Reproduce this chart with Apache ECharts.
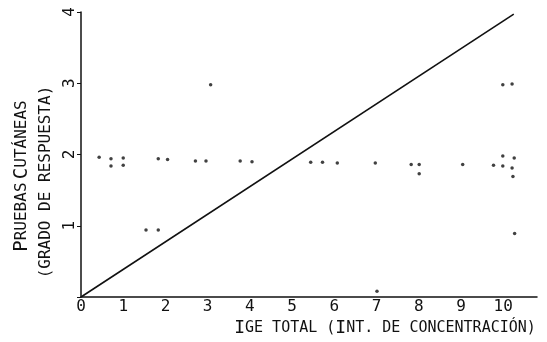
<!DOCTYPE html>
<html>
<head>
<meta charset="utf-8">
<script src="https://cdn.jsdelivr.net/npm/echarts@6/dist/echarts.min.js"></script>
<style>
  html, body { margin: 0; padding: 0; background: #fff; }
  #chart { width: 547px; height: 342px; }
</style>
</head>
<body>
<div id="chart"></div>
<script>
// points (x = IgE concentration, y = skin-test grade)
const pointsX = [0.43, 0.71, 0.71, 1.00, 1.00, 1.83, 2.05, 2.71, 2.96, 3.77, 4.05,
  5.44, 5.72, 6.07, 6.97, 7.82, 8.01, 8.01, 9.04, 9.77, 9.99, 9.99, 10.21, 10.23, 10.26,
  3.07, 9.99, 10.21, 10.27, 1.54, 1.83, 7.01];
const pointsY = [1.96, 1.94, 1.84, 1.95, 1.85, 1.94, 1.93, 1.91, 1.91, 1.91, 1.90,
  1.89, 1.89, 1.88, 1.88, 1.86, 1.86, 1.73, 1.86, 1.85, 1.98, 1.84, 1.81, 1.69, 1.95,
  2.98, 2.98, 2.99, 0.89, 0.94, 0.94, 0.08];
const lineX = [0, 10.25];
const lineY = [0, 3.97];
const xTicks = [0, 1, 2, 3, 4, 5, 6, 7, 8, 9, 10];

const font = "'DejaVu Sans Mono', 'Liberation Mono', monospace";
const chart = echarts.init(document.getElementById("chart"));

chart.setOption({
  animation: false,
  grid: { left: 81, right: 10, top: 12, bottom: 45 },
  xAxis: {
    type: "value",
    min: 0,
    max: 10.8,
    interval: 1,
    splitLine: { show: false },
    axisLine: { lineStyle: { color: "#111", width: 1.5 } },
    axisTick: { show: false },
    axisLabel: {
      color: "#111",
      fontFamily: font,
      fontSize: 16,
      margin: 2,
      formatter: (v) => (xTicks.includes(v) ? String(v) : ""),
    },
  },
  yAxis: {
    type: "value",
    min: 0,
    max: 4,
    interval: 1,
    splitLine: { show: false },
    axisLine: { show: true, lineStyle: { color: "#111", width: 1.5 } },
    axisTick: { show: true, length: 4, lineStyle: { color: "#111" } },
    axisLabel: {
      color: "#111",
      fontFamily: font,
      fontSize: 16,
      rotate: 90,
      margin: 3,
      formatter: (v) => (v === 0 ? "" : String(v)),
    },
  },
  graphic: [
    {
      type: "text",
      x: 22,
      y: 176,
      rotation: Math.PI / 2,
      style: {
        text: "{b|P}{s|RUEBAS} {b|C}{s|UTÁNEAS}",
        align: "center",
        verticalAlign: "middle",
        fill: "#111",
        rich: {
          b: { fontFamily: font, fontSize: 19, fill: "#111" },
          s: { fontFamily: font, fontSize: 16, fill: "#111" },
        },
      },
    },
    {
      type: "text",
      x: 46,
      y: 182,
      rotation: Math.PI / 2,
      style: {
        text: "(GRADO DE RESPUESTA)",
        align: "center",
        verticalAlign: "middle",
        fill: "#111",
        font: "16px " + font,
      },
    },
    {
      type: "text",
      x: 385,
      y: 328,
      style: {
        text: "{b|I}{s|GE TOTAL (}{b|I}{s|NT. DE CONCENTRACIÓN)}",
        align: "center",
        verticalAlign: "middle",
        fill: "#111",
        rich: {
          b: { fontFamily: font, fontSize: 18, fill: "#111" },
          s: { fontFamily: font, fontSize: 15, fill: "#111" },
        },
      },
    },
  ],
  series: [
    {
      type: "line",
      data: lineX.map((x, i) => [x, lineY[i]]),
      showSymbol: false,
      lineStyle: { color: "#111", width: 1.6 },
    },
    {
      type: "scatter",
      data: pointsX.map((x, i) => [x, pointsY[i]]),
      symbolSize: 3.5,
      itemStyle: { color: "#111" },
    },
  ],
});
</script>
</body>
</html>
